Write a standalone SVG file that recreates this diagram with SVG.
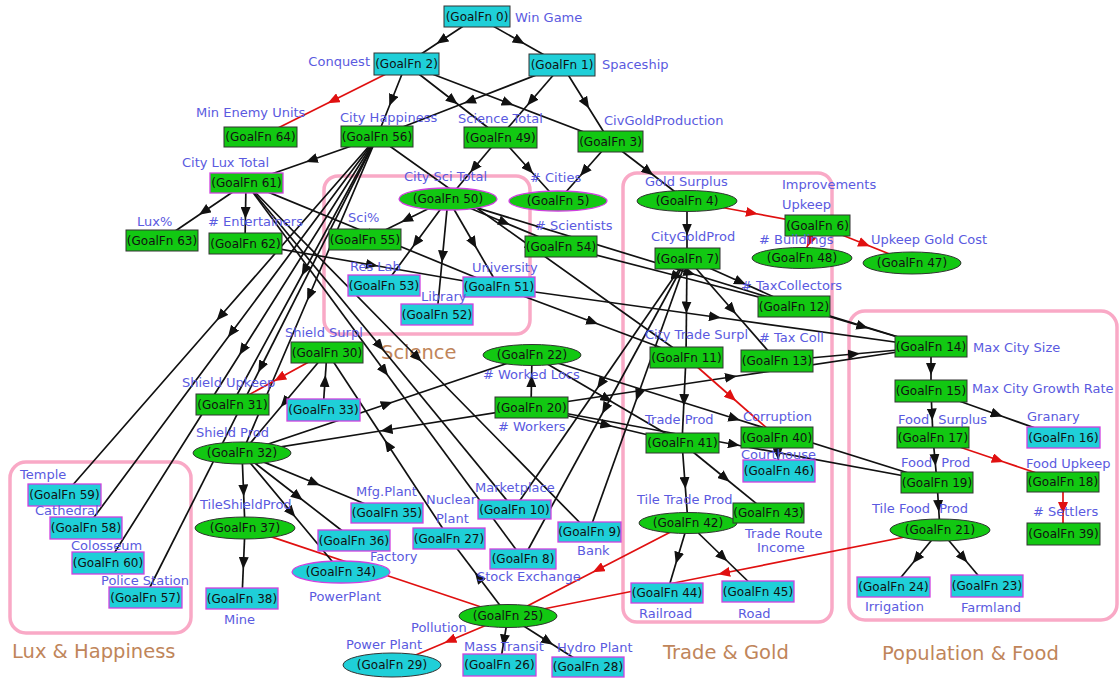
<svg xmlns="http://www.w3.org/2000/svg" width="1120" height="681" viewBox="0 0 1120 681">
<style>
.e{fill:none;stroke:#111;stroke-width:1.7;marker-mid:url(#ak)}
.r{fill:none;stroke:#e01010;stroke-width:1.7;marker-mid:url(#ar)}
.c{fill:#1fcfd8}
.g{fill:#12c812}
.bd{stroke:#333;stroke-width:1}
.bm{stroke:#d040e0;stroke-width:1.3}
.t{font-family:"DejaVu Sans",sans-serif;font-size:12px;fill:#111;text-anchor:middle}
.l{font-family:"DejaVu Sans",sans-serif;font-size:13px;fill:#5a5ae0}
.k{font-family:"DejaVu Sans",sans-serif;font-size:19.5px;fill:#c0855a}
.cl{fill:none;stroke:#f9a9c6;stroke-width:3.5}
</style>
<defs>
<marker id="ak" viewBox="0 0 12 10" refX="6" refY="5" markerWidth="12" markerHeight="10" markerUnits="userSpaceOnUse" orient="auto"><path d="M0,0 L12,5 L0,10 z" fill="#111"/></marker>
<marker id="ar" viewBox="0 0 12 10" refX="6" refY="5" markerWidth="12" markerHeight="10" markerUnits="userSpaceOnUse" orient="auto"><path d="M0,0 L12,5 L0,10 z" fill="#e01010"/></marker>
</defs>
<rect width="1120" height="681" fill="#fff"/>
<g id="clusters">
<rect class="cl" x="324" y="176" width="206" height="158" rx="14"/>
<rect class="cl" x="623" y="173" width="209" height="449" rx="14"/>
<rect class="cl" x="849" y="311" width="268" height="309" rx="16"/>
<rect class="cl" x="10" y="462" width="181" height="171" rx="16"/>
<text class="k" x="381" y="359">Science</text>
<text class="k" x="663" y="659">Trade &amp; Gold</text>
<text class="k" x="882" y="660">Population &amp; Food</text>
<text class="k" x="12" y="658">Lux &amp; Happiness</text>
</g>
<g id="edges">
<path class="e" d="M477 17 L441.5 40.5 L406 64"/>
<path class="e" d="M477 17 L519.5 41 L562 65"/>
<path class="e" d="M406 64 L391.5 100.5 L377 137"/>
<path class="e" d="M406 64 L453 100.5 L500 137"/>
<path class="e" d="M406 64 L508 103 L610 142"/>
<path class="r" d="M406 64 L333 100.5 L260 137"/>
<path class="e" d="M562 65 L469.5 101 L377 137"/>
<path class="e" d="M562 65 L531 101 L500 137"/>
<path class="e" d="M562 65 L586 103.5 L610 142"/>
<path class="e" d="M377 137 L311.5 160 L246 183"/>
<path class="e" d="M500 137 L474 168 L448 199"/>
<path class="e" d="M500 137 L529 169 L558 201"/>
<path class="e" d="M610 142 L584 171.5 L558 201"/>
<path class="e" d="M610 142 L648.5 171.5 L687 201"/>
<path class="e" d="M246 183 L204 211.5 L162 240"/>
<path class="e" d="M246 183 L245.5 213 L245 243"/>
<path class="e" d="M246 183 L372.5 235 L499 287"/>
<path class="e" d="M377 137 L220.5 316 L64 495"/>
<path class="e" d="M377 137 L231.5 332.5 L86 528"/>
<path class="e" d="M377 137 L242.5 350 L108 563"/>
<path class="e" d="M377 137 L261 367 L145 597"/>
<path class="e" d="M377 137 L304.5 270.5 L232 404"/>
<path class="e" d="M377 137 L309.5 295 L242 453"/>
<path class="e" d="M377 137 L531.5 247 L686 357"/>
<path class="e" d="M448 199 L406.5 219.5 L365 240"/>
<path class="e" d="M448 199 L416 242.5 L384 286"/>
<path class="e" d="M448 199 L442.5 256.5 L437 314"/>
<path class="e" d="M448 199 L473.5 243 L499 287"/>
<path class="e" d="M448 199 L504.5 222.5 L561 246"/>
<path class="e" d="M245 243 L372 265 L499 287"/>
<path class="e" d="M246 183 L380 346 L514 509"/>
<path class="e" d="M246 183 L417.5 357.5 L589 532"/>
<path class="e" d="M246 183 L384.5 371 L523 559"/>
<path class="e" d="M687 201 L687 229.5 L687 258"/>
<path class="r" d="M687 201 L752 213 L817 225"/>
<path class="r" d="M817 225 L864.5 244 L912 263"/>
<path class="r" d="M817 225 L809.5 241.5 L802 258"/>
<path class="e" d="M687 258 L740.5 282 L794 306"/>
<path class="e" d="M561 246 L677.5 276 L794 306"/>
<path class="e" d="M687 258 L686.5 307.5 L686 357"/>
<path class="e" d="M687 258 L732 309.5 L777 361"/>
<path class="e" d="M687 258 L600.5 383.5 L514 509"/>
<path class="e" d="M687 258 L638 395 L589 532"/>
<path class="e" d="M687 258 L605 408.5 L523 559"/>
<path class="e" d="M499 287 L715 317 L931 347"/>
<path class="e" d="M448 199 L689.5 273 L931 347"/>
<path class="e" d="M777 361 L854 354 L931 347"/>
<path class="e" d="M531 407 L731 377 L931 347"/>
<path class="e" d="M794 306 L862.5 326.5 L931 347"/>
<path class="e" d="M931 347 L931 369 L931 391"/>
<path class="e" d="M931 391 L932 414.5 L933 438"/>
<path class="e" d="M931 391 L997 414.5 L1063 438"/>
<path class="e" d="M933 438 L935 460 L937 482"/>
<path class="r" d="M933 438 L998 460 L1063 482"/>
<path class="r" d="M1063 482 L1063 508 L1063 534"/>
<path class="e" d="M937 482 L938.5 506 L940 530"/>
<path class="e" d="M940 530 L916.5 558.5 L893 587"/>
<path class="e" d="M940 530 L963.5 558 L987 586"/>
<path class="r" d="M940 530 L724 573 L508 616"/>
<path class="e" d="M532 355 L734.5 418.5 L937 482"/>
<path class="e" d="M531 407 L734 444.5 L937 482"/>
<path class="e" d="M686 357 L684 400 L682 443"/>
<path class="r" d="M686 357 L731.5 397 L777 437"/>
<path class="e" d="M777 437 L778 454 L779 471"/>
<path class="e" d="M682 443 L685 483 L688 523"/>
<path class="e" d="M682 443 L725 478 L768 513"/>
<path class="e" d="M688 523 L677.5 558 L667 593"/>
<path class="e" d="M688 523 L723 557 L758 591"/>
<path class="r" d="M688 523 L598 569.5 L508 616"/>
<path class="r" d="M508 616 L450 640.5 L392 665"/>
<path class="e" d="M508 616 L504 640.5 L500 665"/>
<path class="e" d="M508 616 L548 641.5 L588 667"/>
<path class="e" d="M508 616 L478.5 577 L449 538"/>
<path class="r" d="M245 528 L376.5 572 L508 616"/>
<path class="e" d="M323 410 L325 381 L327 352"/>
<path class="r" d="M327 352 L279.5 378 L232 404"/>
<path class="e" d="M327 352 L284.5 402.5 L242 453"/>
<path class="e" d="M449 538 L388 445 L327 352"/>
<path class="e" d="M242 453 L243.5 490.5 L245 528"/>
<path class="e" d="M245 528 L243.5 563 L242 598"/>
<path class="e" d="M242 453 L314.5 483 L387 513"/>
<path class="e" d="M242 453 L298 496.5 L354 540"/>
<path class="e" d="M242 453 L291.5 512.5 L341 572"/>
<path class="e" d="M242 453 L387 404 L532 355"/>
<path class="e" d="M531 407 L386.5 430 L242 453"/>
<path class="e" d="M531 407 L531.5 381 L532 355"/>
<path class="e" d="M532 355 L607 399 L682 443"/>
<path class="e" d="M531 407 L606.5 425 L682 443"/>
<path class="e" d="M499 287 L592.5 322 L686 357"/>
</g>
<g id="n0"><rect class="c bd" x="444" y="6" width="66" height="21"/><text class="t" x="477" y="21">(GoalFn 0)</text><text class="l" x="515" y="22">Win Game</text></g>
<g id="n2"><rect class="c bd" x="374" y="53" width="65" height="22"/><text class="t" x="406.5" y="68">(GoalFn 2)</text><text class="l" x="370" y="66" text-anchor="end">Conquest</text></g>
<g id="n1"><rect class="c bd" x="529" y="54" width="66" height="22"/><text class="t" x="562" y="69">(GoalFn 1)</text><text class="l" x="602" y="69">Spaceship</text></g>
<g id="n64"><rect class="g bd" x="224" y="127" width="73" height="20"/><text class="t" x="260.5" y="141">(GoalFn 64)</text><text class="l" x="196" y="117">Min Enemy Units</text></g>
<g id="n56"><rect class="g bd" x="341" y="126" width="72" height="21"/><text class="t" x="377" y="140.5">(GoalFn 56)</text><text class="l" x="340" y="122">City Happiness</text></g>
<g id="n49"><rect class="g bd" x="464" y="127" width="73" height="21"/><text class="t" x="500.5" y="141.5">(GoalFn 49)</text><text class="l" x="458" y="123">Science Total</text></g>
<g id="n3"><rect class="g bd" x="578" y="131" width="65" height="21"/><text class="t" x="610.5" y="145.5">(GoalFn 3)</text><text class="l" x="604" y="125">CivGoldProduction</text></g>
<g id="n61"><rect class="g bm" x="210" y="173" width="73" height="20"/><text class="t" x="246.5" y="187">(GoalFn 61)</text><text class="l" x="182" y="167">City Lux Total</text></g>
<g id="n50"><ellipse class="g bm" cx="448" cy="199" rx="49" ry="11"/><text class="t" x="448" y="203">(GoalFn 50)</text><text class="l" x="404" y="181">City Sci Total</text></g>
<g id="n5"><ellipse class="g bm" cx="558" cy="201" rx="49" ry="10"/><text class="t" x="558" y="205">(GoalFn 5)</text><text class="l" x="530" y="182"># Cities</text></g>
<g id="n4"><ellipse class="g bd" cx="687" cy="201" rx="50" ry="10.5"/><text class="t" x="687" y="205">(GoalFn 4)</text><text class="l" x="645" y="186">Gold Surplus</text></g>
<g id="n6"><rect class="g bd" x="785" y="215" width="65" height="21"/><text class="t" x="817.5" y="229.5">(GoalFn 6)</text><text class="l" x="782" y="189">Improvements</text><text class="l" x="782" y="209">Upkeep</text></g>
<g id="n48"><ellipse class="g bd" cx="802" cy="258" rx="50" ry="10.5"/><text class="t" x="802" y="262">(GoalFn 48)</text><text class="l" x="759" y="244"># Buildings</text></g>
<g id="n47"><ellipse class="g bd" cx="912" cy="263" rx="49" ry="11"/><text class="t" x="912" y="267">(GoalFn 47)</text><text class="l" x="871" y="244">Upkeep Gold Cost</text></g>
<g id="n63"><rect class="g bd" x="126" y="230" width="72" height="21"/><text class="t" x="162" y="244.5">(GoalFn 63)</text><text class="l" x="137" y="226">Lux%</text></g>
<g id="n62"><rect class="g bd" x="209" y="233" width="73" height="21"/><text class="t" x="245.5" y="247.5">(GoalFn 62)</text><text class="l" x="208" y="226"># Entertainers</text></g>
<g id="n55"><rect class="g bd" x="329" y="229" width="72" height="21"/><text class="t" x="365" y="243.5">(GoalFn 55)</text><text class="l" x="348" y="222">Sci%</text></g>
<g id="n54"><rect class="g bd" x="525" y="236" width="72" height="21"/><text class="t" x="561" y="250.5">(GoalFn 54)</text><text class="l" x="535" y="230"># Scientists</text></g>
<g id="n7"><rect class="g bd" x="655" y="248" width="65" height="21"/><text class="t" x="687.5" y="262.5">(GoalFn 7)</text><text class="l" x="651" y="241">CityGoldProd</text></g>
<g id="n12"><rect class="g bd" x="758" y="296" width="72" height="21"/><text class="t" x="794" y="310.5">(GoalFn 12)</text><text class="l" x="741" y="290"># TaxCollectors</text></g>
<g id="n53"><rect class="c bm" x="348" y="275" width="72" height="21"/><text class="t" x="384" y="289.5">(GoalFn 53)</text><text class="l" x="350" y="271">Res Lab</text></g>
<g id="n51"><rect class="c bm" x="463" y="277" width="72" height="20"/><text class="t" x="499" y="291">(GoalFn 51)</text><text class="l" x="472" y="272">University</text></g>
<g id="n52"><rect class="c bm" x="401" y="304" width="72" height="21"/><text class="t" x="437" y="318.5">(GoalFn 52)</text><text class="l" x="421" y="301">Library</text></g>
<g id="n30"><rect class="g bd" x="291" y="342" width="72" height="21"/><text class="t" x="327" y="356.5">(GoalFn 30)</text><text class="l" x="285" y="337">Shield Surpl</text></g>
<g id="n22"><ellipse class="g bd" cx="532" cy="355" rx="49" ry="10.5"/><text class="t" x="532" y="359">(GoalFn 22)</text><text class="l" x="483" y="379"># Worked Locs</text></g>
<g id="n14"><rect class="g bd" x="895" y="336" width="72" height="21"/><text class="t" x="931" y="350.5">(GoalFn 14)</text><text class="l" x="973" y="352">Max City Size</text></g>
<g id="n15"><rect class="g bd" x="895" y="380" width="72" height="22"/><text class="t" x="931" y="395">(GoalFn 15)</text><text class="l" x="972" y="393">Max City Growth Rate</text></g>
<g id="n11"><rect class="g bd" x="650" y="347" width="73" height="21"/><text class="t" x="686.5" y="361.5">(GoalFn 11)</text><text class="l" x="645" y="339">City Trade Surpl</text></g>
<g id="n13"><rect class="g bd" x="741" y="350" width="72" height="22"/><text class="t" x="777" y="365">(GoalFn 13)</text><text class="l" x="759" y="342"># Tax Coll</text></g>
<g id="n31"><rect class="g bd" x="196" y="394" width="73" height="21"/><text class="t" x="232.5" y="408.5">(GoalFn 31)</text><text class="l" x="182" y="387">Shield Upkeep</text></g>
<g id="n33"><rect class="c bm" x="287" y="399" width="73" height="22"/><text class="t" x="323.5" y="414">(GoalFn 33)</text></g>
<g id="n20"><rect class="g bd" x="495" y="397" width="73" height="21"/><text class="t" x="531.5" y="411.5">(GoalFn 20)</text><text class="l" x="498" y="431"># Workers</text></g>
<g id="n32"><ellipse class="g bd" cx="242" cy="453" rx="49" ry="11"/><text class="t" x="242" y="457">(GoalFn 32)</text><text class="l" x="196" y="437">Shield Prod</text></g>
<g id="n41"><rect class="g bd" x="646" y="433" width="73" height="20"/><text class="t" x="682.5" y="447">(GoalFn 41)</text><text class="l" x="645" y="424">Trade Prod</text></g>
<g id="n40"><rect class="g bd" x="741" y="427" width="72" height="21"/><text class="t" x="777" y="441.5">(GoalFn 40)</text><text class="l" x="743" y="421">Corruption</text></g>
<g id="n46"><rect class="c bm" x="743" y="460" width="72" height="22"/><text class="t" x="779" y="475">(GoalFn 46)</text><text class="l" x="741" y="459">Courthouse</text></g>
<g id="n17"><rect class="g bd" x="897" y="427" width="72" height="21"/><text class="t" x="933" y="441.5">(GoalFn 17)</text><text class="l" x="898" y="424">Food <tspan dx="5">Surplus</tspan></text></g>
<g id="n16"><rect class="c bm" x="1027" y="427" width="73" height="21"/><text class="t" x="1063.5" y="441.5">(GoalFn 16)</text><text class="l" x="1027" y="421">Granary</text></g>
<g id="n19"><rect class="g bd" x="901" y="472" width="72" height="21"/><text class="t" x="937" y="486.5">(GoalFn 19)</text><text class="l" x="901" y="467">Food <tspan dx="5">Prod</tspan></text></g>
<g id="n18"><rect class="g bd" x="1027" y="472" width="72" height="20"/><text class="t" x="1063" y="486">(GoalFn 18)</text><text class="l" x="1026" y="468">Food Upkeep</text></g>
<g id="n21"><ellipse class="g bd" cx="940" cy="530" rx="50" ry="11"/><text class="t" x="940" y="534">(GoalFn 21)</text><text class="l" x="872" y="513">Tile Food <tspan dx="5">Prod</tspan></text></g>
<g id="n39"><rect class="g bd" x="1027" y="523" width="73" height="22"/><text class="t" x="1063.5" y="538">(GoalFn 39)</text><text class="l" x="1033" y="516"># Settlers</text></g>
<g id="n24"><rect class="c bm" x="857" y="577" width="73" height="20"/><text class="t" x="893.5" y="591">(GoalFn 24)</text><text class="l" x="865" y="611">Irrigation</text></g>
<g id="n23"><rect class="c bm" x="951" y="575" width="72" height="22"/><text class="t" x="987" y="590">(GoalFn 23)</text><text class="l" x="961" y="612">Farmland</text></g>
<g id="n59"><rect class="c bm" x="28" y="484" width="73" height="22"/><text class="t" x="64.5" y="499">(GoalFn 59)</text><text class="l" x="20" y="479">Temple</text></g>
<g id="n58"><rect class="c bm" x="50" y="517" width="72" height="22"/><text class="t" x="86" y="532">(GoalFn 58)</text><text class="l" x="35" y="515">Cathedral</text></g>
<g id="n60"><rect class="c bm" x="72" y="552" width="72" height="22"/><text class="t" x="108" y="567">(GoalFn 60)</text><text class="l" x="71" y="550">Colosseum</text></g>
<g id="n57"><rect class="c bm" x="109" y="587" width="73" height="21"/><text class="t" x="145.5" y="601.5">(GoalFn 57)</text><text class="l" x="101" y="585">Police Station</text></g>
<g id="n37"><ellipse class="g bd" cx="245" cy="528" rx="50" ry="11"/><text class="t" x="245" y="532">(GoalFn 37)</text><text class="l" x="200" y="509">TileShieldProd</text></g>
<g id="n38"><rect class="c bm" x="206" y="588" width="72" height="21"/><text class="t" x="242" y="602.5">(GoalFn 38)</text><text class="l" x="224" y="624">Mine</text></g>
<g id="n36"><rect class="c bm" x="318" y="530" width="72" height="21"/><text class="t" x="354" y="544.5">(GoalFn 36)</text><text class="l" x="370" y="561">Factory</text></g>
<g id="n35"><rect class="c bm" x="351" y="503" width="72" height="20"/><text class="t" x="387" y="517">(GoalFn 35)</text><text class="l" x="356" y="496">Mfg.Plant</text></g>
<g id="n34"><ellipse class="c bm" cx="341" cy="572" rx="49" ry="11"/><text class="t" x="341" y="576">(GoalFn 34)</text><text class="l" x="309" y="601">PowerPlant</text></g>
<g id="n27"><rect class="c bm" x="413" y="528" width="72" height="21"/><text class="t" x="449" y="542.5">(GoalFn 27)</text><text class="l" x="426" y="504">Nuclear</text><text class="l" x="436" y="523">Plant</text></g>
<g id="n10"><rect class="c bm" x="478" y="500" width="73" height="19"/><text class="t" x="514.5" y="513.5">(GoalFn 10)</text><text class="l" x="475" y="492">Marketplace</text></g>
<g id="n9"><rect class="c bm" x="558" y="522" width="63" height="20"/><text class="t" x="589.5" y="536">(GoalFn 9)</text><text class="l" x="577" y="555">Bank</text></g>
<g id="n8"><rect class="c bm" x="490" y="549" width="66" height="20"/><text class="t" x="523" y="563">(GoalFn 8)</text><text class="l" x="477" y="581">Stock Exchange</text></g>
<g id="n25"><ellipse class="g bd" cx="508" cy="616" rx="49" ry="11.5"/><text class="t" x="508" y="620">(GoalFn 25)</text><text class="l" x="411" y="632">Pollution</text></g>
<g id="n29"><ellipse class="c bd" cx="392" cy="665" rx="49" ry="12"/><text class="t" x="392" y="669">(GoalFn 29)</text><text class="l" x="346" y="649">Power Plant</text></g>
<g id="n26"><rect class="c bm" x="463" y="654" width="73" height="22"/><text class="t" x="499.5" y="669">(GoalFn 26)</text><text class="l" x="464" y="651">Mass Transit</text></g>
<g id="n28"><rect class="c bm" x="552" y="657" width="72" height="20"/><text class="t" x="588" y="671">(GoalFn 28)</text><text class="l" x="557" y="652">Hydro Plant</text></g>
<g id="n42"><ellipse class="g bd" cx="688" cy="523" rx="49" ry="10.5"/><text class="t" x="688" y="527">(GoalFn 42)</text><text class="l" x="637" y="504">Tile Trade Prod</text></g>
<g id="n43"><rect class="g bd" x="733" y="503" width="71" height="20"/><text class="t" x="768.5" y="517">(GoalFn 43)</text><text class="l" x="745" y="538">Trade Route</text><text class="l" x="757" y="552">Income</text></g>
<g id="n44"><rect class="c bm" x="631" y="583" width="72" height="20"/><text class="t" x="667" y="597">(GoalFn 44)</text><text class="l" x="639" y="618">Railroad</text></g>
<g id="n45"><rect class="c bm" x="722" y="581" width="72" height="21"/><text class="t" x="758" y="595.5">(GoalFn 45)</text><text class="l" x="738" y="618">Road</text></g>
</svg>
